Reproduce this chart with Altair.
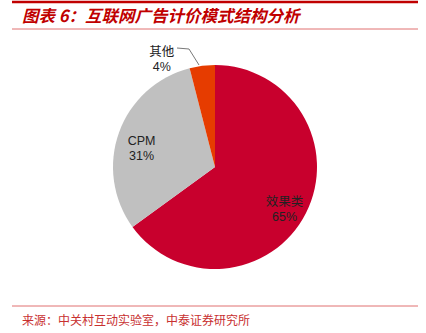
import altair as alt
import pandas as pd

categories = ["效果类", "CPM", "其他"]
values = [65, 31, 4]
colors = ["#C8002D", "#C0C0C0", "#E63C00"]
title_text = "图表 6：互联网广告计价模式结构分析"
source_text = "来源：中关村互动实验室，中泰证券研究所"

df = pd.DataFrame({"category": categories, "value": values, "order": list(range(len(categories)))})
df["label"] = df["category"] + "\n" + df["value"].astype(str) + "%"
dummy = pd.DataFrame({"a": [0]})

CX, CY, R = 215, 167, 102

base = alt.Chart(df).encode(
    theta=alt.Theta("value:Q", stack=True),
    order=alt.Order("order:Q"),
    x=alt.value(CX),
    y=alt.value(CY),
)
pie = base.mark_arc(outerRadius=R).encode(
    color=alt.Color("category:N", scale=alt.Scale(domain=categories, range=colors), legend=None)
)
inner = base.mark_text(radius=78, lineBreak="\n", fontSize=12.5, font="Liberation Sans, Noto Sans CJK SC",
                       color="#222222", lineHeight=15).encode(
    text="label:N",
    opacity=alt.condition("datum.category != '其他'", alt.value(1), alt.value(0)),
)
outer = base.mark_text(radius=122, dx=-38, dy=6, lineBreak="\n", fontSize=12.5,
                       font="Liberation Sans, Noto Sans CJK SC", color="#222222", lineHeight=15).encode(
    text="label:N",
    opacity=alt.condition("datum.category == '其他'", alt.value(1), alt.value(0)),
)

d = alt.Chart(dummy)
lead1 = d.mark_rule(color="#555555", strokeWidth=0.8).encode(
    x=alt.value(177), y=alt.value(48), x2=alt.value(189), y2=alt.value(49))
lead2 = d.mark_rule(color="#555555", strokeWidth=0.8).encode(
    x=alt.value(189), y=alt.value(49), x2=alt.value(199), y2=alt.value(65))
top_rule = d.mark_rule(color="#C00000", strokeWidth=2.5).encode(
    x=alt.value(12), x2=alt.value(418), y=alt.value(2))
mid_rule = d.mark_rule(color="#E07070", strokeWidth=1).encode(
    x=alt.value(12), x2=alt.value(418), y=alt.value(29))
bot_rule = d.mark_rule(color="#E07070", strokeWidth=1).encode(
    x=alt.value(12), x2=alt.value(418), y=alt.value(306))
title = d.mark_text(align="left", baseline="middle", fontSize=16.5, fontStyle="italic", fontWeight="bold",
                    font="Noto Sans CJK SC", color="#C00000").encode(
    x=alt.value(22), y=alt.value(17), text=alt.value(title_text))
source = d.mark_text(align="left", baseline="middle", fontSize=12, font="Noto Sans CJK SC",
                     color="#C83030").encode(
    x=alt.value(22), y=alt.value(321), text=alt.value(source_text))

chart = alt.layer(pie, inner, outer, lead1, lead2, top_rule, mid_rule, bot_rule, title, source).properties(
    width=426, height=333, autosize=alt.AutoSizeParams(type="none"), padding=0, background="white"
).configure_view(stroke=None)

chart.save("out.html", embed_options={"renderer": "svg", "actions": False})
